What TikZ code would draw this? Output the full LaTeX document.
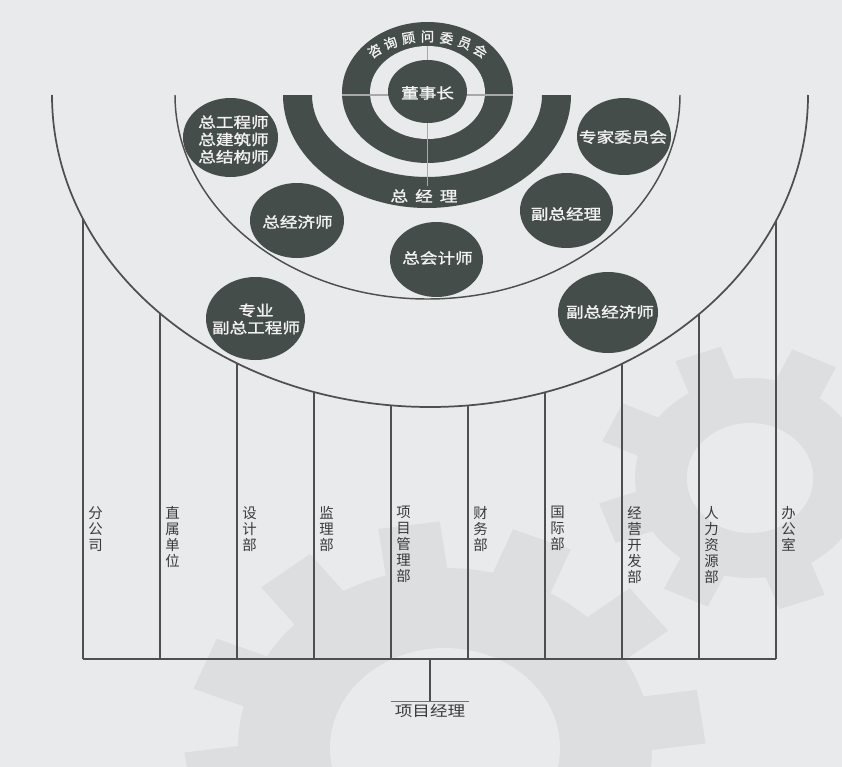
\documentclass[tikz,border=0pt]{standalone}
\usepackage{fontspec}
\newfontfamily\cjk{Noto Sans CJK SC}
\newfontfamily\cjkw[AutoFakeBold=1.3]{Noto Sans CJK SC}
\usetikzlibrary{shapes.geometric}
\definecolor{bgc}{HTML}{E9EAEB}
\definecolor{gearc}{HTML}{DDDEDF}
\definecolor{darkc}{HTML}{454D4A}
\definecolor{linec}{HTML}{4F4F4F}
\definecolor{txtc}{HTML}{3A3A3A}
\definecolor{crossc}{HTML}{A8A8A8}
\definecolor{wtc}{HTML}{F2F2F2}
\newcommand{\sx}[1]{\scalebox{1.2}[1]{#1}}
\begin{document}
\begin{tikzpicture}[x=0.75pt,y=-0.75pt,
  darkfill/.style={fill=darkc},
  wtxt/.style={text=wtc, font=\cjkw\bfseries\fontsize{11}{13}\selectfont, align=center, inner sep=0pt},
  ringtxt/.style={text=wtc, font=\cjkw\bfseries\fontsize{10}{12}\selectfont, inner sep=0pt},
  dept/.style={text=txtc, font=\cjk\fontsize{10.8}{12}\selectfont, align=center, anchor=north, inner sep=0pt},
  arcline/.style={draw=linec, line width=1.3pt},
  inarc/.style={draw=linec, line width=1.1pt},
  vline/.style={draw=linec, line width=0.8pt},
  crossline/.style={draw=crossc, line width=0.8pt},
  gearpart/.style={fill=gearc}]
\path[use as bounding box, fill=bgc] (0,0) rectangle (842,767);
\clip (0,0) rectangle (842,767);

% background gears
\begin{scope}[shift={(750,478)}, xscale=1.15]
  \fill[gearpart] (0,0) circle[radius=100];
  \foreach \a in {0,45,...,315} \fill[gearpart, rotate=\a+20] (-21,88) rectangle (21,132);
  \fill[bgc] (0,0) circle[radius=55];
\end{scope}
\begin{scope}[shift={(445,748)}, xscale=1.15]
  \fill[gearpart] (0,0) circle[radius=180];
  \foreach \a in {0,30,...,330} \fill[gearpart, rotate=\a+8] (-27,170) rectangle (27,225);
  \fill[bgc] (0,0) circle[radius=100];
\end{scope}

% big arcs
\draw[arcline] (52,95) arc[start angle=180, end angle=0, x radius=378, y radius=312];
\draw[inarc] (175,95) arc[start angle=180, end angle=0, x radius=252.5, y radius=204];

% department lines
\foreach \i in {0,...,9} {
  \pgfmathsetmacro\xx{83+77*\i}
  \pgfmathsetmacro\yy{95+312*sqrt(1-((\xx-430)/378)^2)}
  \coordinate (t\i) at (\xx,\yy);
  \coordinate (b\i) at (\xx,659);
  \draw[vline] (t\i) -- (b\i);
}
\draw[vline] (b0) -- (b9);
\coordinate (bm) at (430,659);

\node[dept] (d0) at (95.5,506) {分\\公\\司};
\node[dept] (d1) at (172.5,506) {直\\属\\单\\位};
\node[dept] (d2) at (249.5,506) {设\\计\\部};
\node[dept] (d3) at (326.5,506) {监\\理\\部};
\node[dept] (d4) at (403.5,506) {项\\目\\管\\理\\部};
\node[dept] (d5) at (480.5,506) {财\\务\\部};
\node[dept] (d6) at (557.5,506) {国\\际\\部};
\node[dept] (d7) at (634.5,506) {经\\营\\开\\发\\部};
\node[dept] (d8) at (711.5,506) {人\\力\\资\\源\\部};
\node[dept] (d9) at (788.5,506) {办\\公\\室};

\node[text=txtc, font=\cjk\fontsize{11}{13}\selectfont, inner xsep=3pt, inner ysep=2.5pt, anchor=north] (pm) at (430,701) {\sx{项目经理}};
\draw[vline] (bm) -- (pm.north);
\draw[draw=linec!80, line width=0.6pt] (pm.north west) -- (pm.north east);

% ring of the consultants committee
\fill[darkfill] (427.5,92.5) ellipse[x radius=85.5, y radius=70.5];
\fill[bgc] (427.5,92.5) ellipse[x radius=57.5, y radius=46.5];
% general manager band
\fill[darkfill] (283,95) arc[start angle=180, end angle=0, x radius=144, y radius=113]
  -- (542,95) arc[start angle=0, end angle=180, x radius=115, y radius=82] -- cycle;
% cross lines
\draw[crossline] (427.5,46) -- (427.5,186);
\draw[crossline] (342,95) -- (513,95);
% chairman
\fill[darkfill] (427.5,91.5) ellipse[x radius=39.5, y radius=31.5];
\node[wtxt] (dsz) at (427.5,93) {\sx{董事长}};
\node[wtxt] (zjl) at (424,196) {\sx{总\hspace{4.4pt}经\hspace{4.4pt}理}};
\foreach \c [count=\k from 0] in {咨,询,顾,问,委,员,会} {
  \pgfmathsetmacro\tt{132-\k*84/6}
  \node[ringtxt, rotate={atan2(-56*cos(\tt),79*sin(\tt))}] (r\k) at ({427.5+79*cos(\tt)},{92.5-56*sin(\tt)}) {\c};
}

% officer ellipses
\fill[darkfill] (230.5,137.5) ellipse[x radius=47.5, y radius=39.5];
\node[wtxt] (zgcs) at (233.5,139.5) {\sx{总工程师}\\\sx{总建筑师}\\\sx{总结构师}};
\fill[darkfill] (297,220.5) ellipse[x radius=47, y radius=37.5];
\node[wtxt] (zjjs) at (297.5,222) {\sx{总经济师}};
\fill[darkfill] (624,136.5) ellipse[x radius=47, y radius=38.5];
\node[wtxt] (zjwy) at (623,137) {\sx{专家委员会}};
\fill[darkfill] (566.5,210.5) ellipse[x radius=46.5, y radius=37.5];
\node[wtxt] (fzjl) at (566,214) {\sx{副总经理}};
\fill[darkfill] (436.5,259.5) ellipse[x radius=46.5, y radius=37.5];
\node[wtxt] (zkjs) at (437.5,258) {\sx{总会计师}};
\fill[darkfill] (255.5,318.5) ellipse[x radius=49.5, y radius=41.5];
\node[wtxt] (zyfz) at (256,319) {\sx{专业}\\\sx{副总工程师}};
\fill[darkfill] (608,312.5) ellipse[x radius=50, y radius=40.5];
\node[wtxt] (fzjj) at (610,312) {\sx{副总经济师}};
\end{tikzpicture}
\end{document}
